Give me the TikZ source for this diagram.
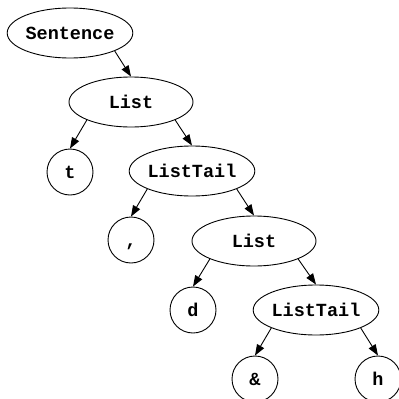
\documentclass[tikz,border=0pt]{standalone}
\usepackage{fontspec}
\setmonofont{Liberation Mono}
\usetikzlibrary{arrows.meta,shapes.geometric}
\tikzset{
	nt/.style={draw,ellipse,line width=0.9pt,minimum width=124pt,minimum height=50pt,inner sep=0pt},
	leaf/.style={draw,circle,line width=0.9pt,minimum size=46pt,inner sep=0pt},
	edge/.style={line width=0.9pt,-{Triangle[length=11pt,width=8pt]}}
}

\begin{document}
\begin{tikzpicture}[x=1pt,y=-1pt,font=\fontsize{18.5}{20}\selectfont\ttfamily\bfseries,
        every node/.append style={text height=14pt,text depth=2pt}]
        \useasboundingbox (0,0) rectangle (399,399);
        \node[nt] (sentence) at (70, 33) {Sentence};
        \node[nt] (list_1) at (131, 102) {List};
        \node[leaf] (t) at (70, 172) {t};
        \node[nt] (tail_1) at (192, 171) {ListTail};
        \node[leaf] (comma) at (131, 240) {,};
        \node[nt] (list_2) at (254, 241) {List};
        \node[leaf] (d) at (193, 310) {d};
        \node[nt] (tail_2) at (316, 310) {ListTail};
        \node[leaf] (amp) at (255, 379) {\&};
        \node[leaf] (h) at (378, 379) {h};
        \draw[edge] (sentence.south east) -- (list_1.north);
        \draw[edge] (list_1.south west) -- (t.north);
        \draw[edge] (list_1.south east) -- (tail_1.north);
        \draw[edge] (tail_1.south west) -- (comma.north);
        \draw[edge] (tail_1.south east) -- (list_2.north);
        \draw[edge] (list_2.south west) -- (d.north);
        \draw[edge] (list_2.south east) -- (tail_2.north);
        \draw[edge] (tail_2.south west) -- (amp.north);
        \draw[edge] (tail_2.south east) -- (h.north);
    \end{tikzpicture}
\end{document}
